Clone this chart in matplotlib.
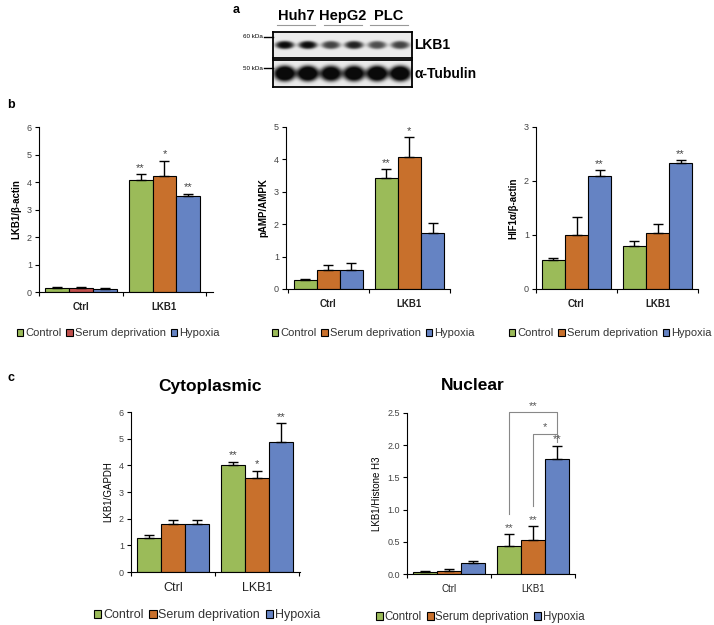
import numpy as np
import matplotlib.pyplot as plt
from matplotlib.patches import Patch

plt.rcParams['font.family'] = ['Liberation Sans', 'DejaVu Sans']

W, H = 714, 625

groups = ['Ctrl', 'LKB1']
conditions = ['Control', 'Serum deprivation', 'Hypoxia']

# western blot (panel a): relative band strength per lane
cell_lines = ['Huh7', 'HepG2', 'PLC']
lkb1_bands = [1.0, 1.0, 0.75, 0.9, 0.7, 0.75]
tubulin_bands = [1.3, 1.3, 1.2, 1.25, 1.3, 1.3]

# panel b, values per condition -> [Ctrl, LKB1]
lkb1_actin = [[0.15, 4.08], [0.15, 4.23], [0.12, 3.48]]
lkb1_actin_err = [[0.03, 0.20], [0.03, 0.55], [0.02, 0.10]]
lkb1_actin_sig = [['', '**'], ['', '*'], ['', '**']]

pampk = [[0.27, 3.42], [0.58, 4.08], [0.60, 1.73]]
pampk_err = [[0.04, 0.28], [0.17, 0.61], [0.19, 0.30]]
pampk_sig = [['', '**'], ['', '*'], ['', '']]

hif1a = [[0.54, 0.80], [1.00, 1.04], [2.10, 2.34]]
hif1a_err = [[0.04, 0.08], [0.33, 0.17], [0.10, 0.04]]
hif1a_sig = [['', ''], ['', ''], ['**', '**']]

# panel c
cyto = [[1.29, 4.01], [1.81, 3.51], [1.81, 4.89]]
cyto_err = [[0.09, 0.13], [0.13, 0.29], [0.13, 0.69]]
cyto_sig = [['', '**'], ['', '*'], ['', '**']]

nuc = [[0.035, 0.44], [0.05, 0.53], [0.17, 1.79]]
nuc_err = [[0.005, 0.18], [0.02, 0.21], [0.03, 0.20]]
nuc_sig = [['', '**'], ['', '**'], ['', '**']]

green = '#9BBB59'
orange = '#C8702C'
red = '#C0504D'
blue = '#6583C3'

fig = plt.figure(figsize=(W / 100, H / 100), dpi=100)


def rect(x0, y0, x1, y1):
    return [x0 / W, 1 - y1 / H, (x1 - x0) / W, (y1 - y0) / H]


def ftxt(x, y, s, **kw):
    fig.text(x / W, 1 - y / H, s, **kw)


def panel(box, vals, errs, sig, colors, ylim, yticks, ylabel, xlim,
          fmt='%d', bold=True, lab_size=7, sig_color='#444444'):
    ax = fig.add_axes(rect(*box))
    w = 0.285
    for i in range(3):
        xs = np.arange(2) + (i - 1) * w
        ax.bar(xs, vals[i], w, color=colors[i], edgecolor='black', lw=0.8, zorder=2)
        ax.errorbar(xs, vals[i], yerr=[np.zeros(2), errs[i]], fmt='none',
                    ecolor='black', elinewidth=1, capsize=3.5, capthick=1, zorder=3)
        for j in range(2):
            if sig[i][j]:
                ax.annotate(sig[i][j], (xs[j], vals[i][j] + errs[i][j]),
                            xytext=(0, 1), textcoords='offset points',
                            ha='center', va='bottom', fontsize=8, color=sig_color)
    ax.set_xlim(*xlim)
    ax.set_ylim(*ylim)
    ax.set_yticks(yticks)
    ax.set_yticklabels([fmt % t for t in yticks])
    ax.set_xticks([0, 1])
    ax.set_xticklabels(groups, fontsize=lab_size,
                       fontweight='bold' if bold else 'normal', color='#222222')
    ax.set_xticks([-0.5, 0.5, 1.5], minor=True)
    ax.tick_params(axis='x', which='major', length=0, pad=7)
    ax.tick_params(axis='x', which='minor', length=3, width=0.8, direction='out')
    ax.tick_params(axis='y', length=3, width=0.8, labelsize=6.5, labelcolor='#444444', pad=2)
    for s in ['top', 'right']:
        ax.spines[s].set_visible(False)
    for s in ['left', 'bottom']:
        ax.spines[s].set_linewidth(0.8)
    ax.set_ylabel(ylabel, fontsize=7, fontweight='bold' if bold else 'normal',
                  labelpad=4)
    return ax


def legend(cx, cy, colors, size=8):
    handles = [Patch(facecolor=c, edgecolor='black', lw=0.8) for c in colors]
    fig.legend(handles, conditions, loc='center', bbox_to_anchor=(cx / W, 1 - cy / H),
               ncol=3, frameon=False, fontsize=size, handlelength=0.6, handleheight=0.6,
               handletextpad=0.15, columnspacing=0.45, labelcolor='#333333')


# ---- panel a: blot ----
ftxt(233, 10, 'a', fontsize=9, fontweight='bold', va='center')
for k, name in enumerate(cell_lines):
    cx = 273 + 139 * (2 * k + 1) / 6
    ftxt(cx, 16, name, fontsize=10.5, fontweight='bold', ha='center', va='center')
    fig.add_artist(plt.Line2D([(cx - 19) / W, (cx + 19) / W], [1 - 25 / H] * 2,
                              color='#999999', lw=0.8))

xx = np.linspace(0, 1, 278)
yy = np.linspace(0, 1, 52)
X, Y = np.meshgrid(xx, yy)
for bands, (y0, y1), sx, sy, label, kda in [
        (lkb1_bands, (32, 58), 0.068, 0.16, 'LKB1', '60 kDa'),
        (tubulin_bands, (60, 87), 0.08, 0.3, '\u03b1-Tubulin', '50 kDa')]:
    ax = fig.add_axes(rect(273, y0, 412, y1))
    dens = np.zeros_like(X)
    for k, b in enumerate(bands):
        xc = (k + 0.5) / 6
        r2 = ((X - xc) / sx) ** 2 + ((Y - 0.5) / sy) ** 2
        dens += b * np.exp(-r2 ** 2)
    img = 0.92 - 0.88 * np.clip(dens, 0, 1)
    ax.imshow(img, cmap='gray', vmin=0, vmax=1, aspect='auto', extent=(0, 1, 0, 1),
              interpolation='bilinear')
    ax.set_xticks([])
    ax.set_yticks([])
    for s in ax.spines.values():
        s.set_linewidth(1.3)
    ftxt(414, (y0 + y1) / 2, label, fontsize=10, fontweight='bold', va='center')
    ky = y0 + 5 if label == 'LKB1' else y0 + 8
    ftxt(263, ky, kda, fontsize=4.5, ha='right', va='center')
    fig.add_artist(plt.Line2D([264 / W, 273 / W], [1 - ky / H] * 2, color='black', lw=1))

# ---- panel b ----
ftxt(7, 108, 'b', fontsize=9, fontweight='bold')
panel((39, 127, 213, 292), lkb1_actin, lkb1_actin_err, lkb1_actin_sig,
      [[green, green], [red, orange], [blue, blue]], (0, 6), range(7),
      'LKB1/\u03b2-actin', (-0.49, 1.58))
legend(118, 333, [green, red, blue])

panel((286, 127, 450, 289), pampk, pampk_err, pampk_sig,
      [[green] * 2, [orange] * 2, [blue] * 2], (0, 5), range(6),
      'pAMP/AMPK', (-0.52, 1.5))
legend(373, 333, [green, orange, blue])

panel((536, 127, 698, 289), hif1a, hif1a_err, hif1a_sig,
      [[green] * 2, [orange] * 2, [blue] * 2], (0, 3), range(4),
      'HIF1\u03b1/\u03b2-actin', (-0.48, 1.49))
legend(610, 333, [green, orange, blue])

# ---- panel c ----
ftxt(8, 381, 'c', fontsize=9, fontweight='bold')
ftxt(210, 386, 'Cytoplasmic', fontsize=12.5, fontweight='bold', ha='center', va='center')
ftxt(473, 386, 'Nuclear', fontsize=12.5, fontweight='bold', ha='center', va='center')

panel((131, 412, 300, 572), cyto, cyto_err, cyto_sig,
      [[green] * 2, [orange] * 2, [blue] * 2], (0, 6), range(7),
      'LKB1/GAPDH', (-0.5, 1.51), bold=False, lab_size=9)
legend(207, 615, [green, orange, blue], size=9)

ax = panel((407, 413, 575, 574), nuc, nuc_err, nuc_sig,
           [[green] * 2, [orange] * 2, [blue] * 2], (0, 2.5), [0, 0.5, 1, 1.5, 2, 2.5],
           'LKB1/Histone H3', (-0.49, 1.49), fmt='%.1f', bold=False, lab_size=7,
           sig_color='#555555')
w = 0.285
for xa, top, low, mark in [(1 - w, 2.51, 0.93, '**'), (1.0, 2.18, 1.05, '*')]:
    ax.plot([xa, xa, 1 + w, 1 + w], [low, top, top, 2.18 if mark == '**' else 2.05],
            color='#888888', lw=0.8, clip_on=False)
    ax.text((xa + 1 + w) / 2, top + 0.02, mark, ha='center', va='bottom',
            fontsize=8, color='#555555')
legend(480, 617, [green, orange, blue], size=8.3)

fig.savefig('out.png', dpi=100)
